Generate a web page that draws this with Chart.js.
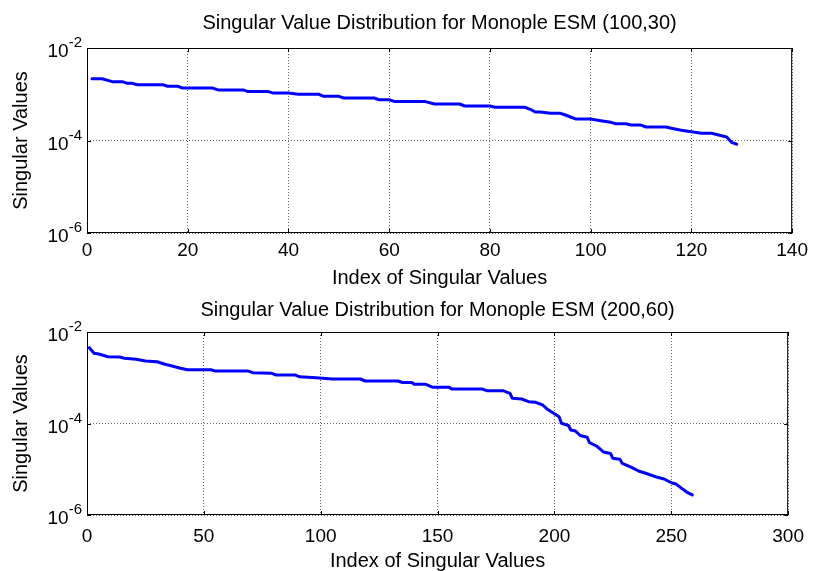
<!DOCTYPE html>
<html>
<head>
<meta charset="utf-8">
<script src="https://cdn.jsdelivr.net/npm/chart.js@4.4.1/dist/chart.umd.min.js"></script>
<style>
  body { margin: 0; background: #fff; }
  #wrap { position: relative; width: 814px; height: 571px; }
  canvas { position: absolute; left: 0; }
</style>
</head>
<body>
<div id="wrap">
  <canvas id="sv100" width="814" height="290" style="top:0"></canvas>
  <canvas id="sv200" width="814" height="281" style="top:290px"></canvas>
</div>
<script>
// ESM (100,30): index -> singular value at each corner of the curve
const idx100 = [1, 3, 5, 7, 8, 9, 10, 15, 16, 18, 19, 25, 26, 31, 32, 36, 37, 40, 42, 46,
  47, 50, 51, 57, 58, 60, 61, 67, 69, 74, 75, 80, 81, 87, 88, 89, 90, 92, 94, 95,
  96, 97, 100, 102, 104, 105, 107, 108, 110, 111, 115, 116, 118, 120, 122, 124, 126, 127, 128, 129];
const sv100 = [2.17e-3, 2.17e-3, 1.87e-3, 1.87e-3, 1.72e-3, 1.72e-3, 1.61e-3, 1.61e-3, 1.49e-3, 1.49e-3,
  1.36e-3, 1.36e-3, 1.24e-3, 1.24e-3, 1.14e-3, 1.14e-3, 1.06e-3, 1.06e-3, 1.0e-3, 1.0e-3,
  9.0e-4, 9.0e-4, 8.3e-4, 8.3e-4, 7.6e-4, 7.6e-4, 7.0e-4, 7.0e-4, 6.15e-4, 6.15e-4,
  5.57e-4, 5.57e-4, 5.22e-4, 5.22e-4, 4.73e-4, 4.13e-4, 4.13e-4, 3.87e-4, 3.87e-4, 3.56e-4,
  3.22e-4, 2.92e-4, 2.92e-4, 2.68e-4, 2.47e-4, 2.31e-4, 2.31e-4, 2.16e-4, 2.16e-4, 1.96e-4,
  1.96e-4, 1.84e-4, 1.66e-4, 1.55e-4, 1.43e-4, 1.43e-4, 1.27e-4, 1.19e-4, 9.1e-5, 8.3e-5];

// ESM (200,60)
const idx200 = [1, 3, 5, 9, 14, 16, 21, 25, 30, 33, 36, 40, 43, 53, 55, 69, 71, 79, 81, 89,
  91, 98, 105, 117, 119, 133, 135, 139, 140, 145, 148, 155, 156, 169, 171, 178, 181, 182, 186, 189,
  192, 195, 197, 199, 202, 203, 206, 207, 209, 211, 214, 215, 218, 220, 221, 224, 225, 228, 229, 233,
  236, 240, 244, 247, 250, 252, 255, 257, 259];
const sv200 = [4.54e-3, 3.42e-3, 3.30e-3, 2.88e-3, 2.84e-3, 2.66e-3, 2.53e-3, 2.32e-3, 2.24e-3, 2.00e-3,
  1.83e-3, 1.61e-3, 1.50e-3, 1.50e-3, 1.40e-3, 1.40e-3, 1.29e-3, 1.25e-3, 1.15e-3, 1.15e-3,
  1.05e-3, 1.00e-3, 9.39e-4, 9.39e-4, 8.49e-4, 8.49e-4, 7.87e-4, 7.87e-4, 7.19e-4, 7.19e-4,
  6.18e-4, 6.18e-4, 5.68e-4, 5.68e-4, 5.21e-4, 5.21e-4, 4.57e-4, 3.55e-4, 3.43e-4, 3.00e-4,
  2.91e-4, 2.54e-4, 2.04e-4, 1.76e-4, 1.41e-4, 1.01e-4, 9.04e-5, 7.21e-5, 6.86e-5, 5.46e-5,
  4.99e-5, 3.80e-5, 3.22e-5, 2.64e-5, 2.38e-5, 2.21e-5, 1.73e-5, 1.65e-5, 1.35e-5, 1.10e-5,
  9.15e-6, 7.87e-6, 6.67e-6, 6.12e-6, 5.08e-6, 4.76e-6, 3.64e-6, 3.07e-6, 2.74e-6];

const xTicks100 = [0, 20, 40, 60, 80, 100, 120, 140];
const xTicks200 = [0, 50, 100, 150, 200, 250, 300];
const yTicks = [1e-6, 1e-4, 1e-2];

const FONT = '"Liberation Sans", Arial, sans-serif';
Chart.defaults.color = '#000';
Chart.defaults.font.family = FONT;

// box around the axes, inward tick marks and 10^n labels
const axesBox = {
  id: 'axesBox',
  afterDatasetsDraw(chart) {
    const {ctx, chartArea: a, scales: {x, y}} = chart;
    ctx.save();
    ctx.strokeStyle = '#000';
    ctx.lineWidth = 1;
    ctx.beginPath();
    x.ticks.forEach(t => {
      const px = Math.round(x.getPixelForValue(t.value)) + 0.5;
      ctx.moveTo(px, a.top); ctx.lineTo(px, a.top + 4);
      ctx.moveTo(px, a.bottom); ctx.lineTo(px, a.bottom - 4);
    });
    y.ticks.forEach(t => {
      const py = Math.round(y.getPixelForValue(t.value)) + 0.5;
      ctx.moveTo(a.left, py); ctx.lineTo(a.left + 4, py);
      ctx.moveTo(a.right, py); ctx.lineTo(a.right - 4, py);
    });
    ctx.stroke();
    ctx.strokeRect(a.left + 0.5, a.top + 0.5, a.right - a.left - 1, a.bottom - a.top - 1);

    ctx.fillStyle = '#000';
    ctx.textAlign = 'right';
    ctx.textBaseline = 'alphabetic';
    y.ticks.forEach(t => {
      const py = y.getPixelForValue(t.value);
      const exp = String(Math.round(Math.log10(t.value)));
      const right = a.left - 5;
      ctx.font = '15px ' + FONT;
      ctx.fillText(exp, right, py - 1);
      const ew = ctx.measureText(exp).width;
      ctx.font = '19px ' + FONT;
      ctx.fillText('10', right - ew, py + 9);
    });
    ctx.restore();
  }
};

function makeChart(id, title, idx, sv, xTicks, opt) {
  return new Chart(document.getElementById(id), {
    type: 'line',
    data: {
      datasets: [{
        data: idx.map((v, k) => ({x: v, y: sv[k]})),
        borderColor: '#0000ff',
        borderWidth: 3,
        borderJoinStyle: 'round',
        borderCapStyle: 'round',
        pointRadius: 0,
        tension: 0
      }]
    },
    options: {
      responsive: false,
      animation: false,
      devicePixelRatio: 1,
      layout: {padding: {left: 0, right: 20, top: 0, bottom: 0}},
      plugins: {
        legend: {display: false},
        tooltip: {enabled: false},
        title: {
          display: true,
          text: title,
          fullSize: false,
          font: {size: 20, weight: 'normal'},
          padding: opt.titlePad
        }
      },
      scales: {
        x: {
          type: 'linear',
          min: xTicks[0],
          max: xTicks[xTicks.length - 1],
          afterBuildTicks: s => { s.ticks = xTicks.map(v => ({value: v})); },
          afterFit: s => { s.height = opt.xHeight; },
          ticks: {font: {size: 19}, padding: opt.xTickPad, maxRotation: 0, autoSkip: false},
          grid: {color: '#666', lineWidth: 1, drawTicks: false},
          border: {display: false, dash: [1, 2]},
          title: {display: true, text: 'Index of Singular Values', font: {size: 20}, padding: {top: 0, bottom: opt.xTitlePad}}
        },
        y: {
          type: 'logarithmic',
          min: 1e-6,
          max: 1e-2,
          afterBuildTicks: s => { s.ticks = yTicks.map(v => ({value: v})); },
          afterFit: s => { s.width = 87; },
          ticks: {display: false},
          grid: {color: '#666', lineWidth: 1, drawTicks: false},
          border: {display: false, dash: [1, 2]},
          title: {display: true, text: 'Singular Values', font: {size: 20}, padding: {top: 9, bottom: 0}}
        }
      }
    },
    plugins: [axesBox]
  });
}

makeChart('sv100', 'Singular Value Distribution for Monople ESM (100,30)', idx100, sv100, xTicks100,
  {titlePad: {top: 11, bottom: 13}, xHeight: 57, xTickPad: 6, xTitlePad: 0});
makeChart('sv200', 'Singular Value Distribution for Monople ESM (200,60)', idx200, sv200, xTicks200,
  {titlePad: {top: 8, bottom: 10}, xHeight: 56, xTickPad: 10, xTitlePad: -2});
</script>
</body>
</html>
